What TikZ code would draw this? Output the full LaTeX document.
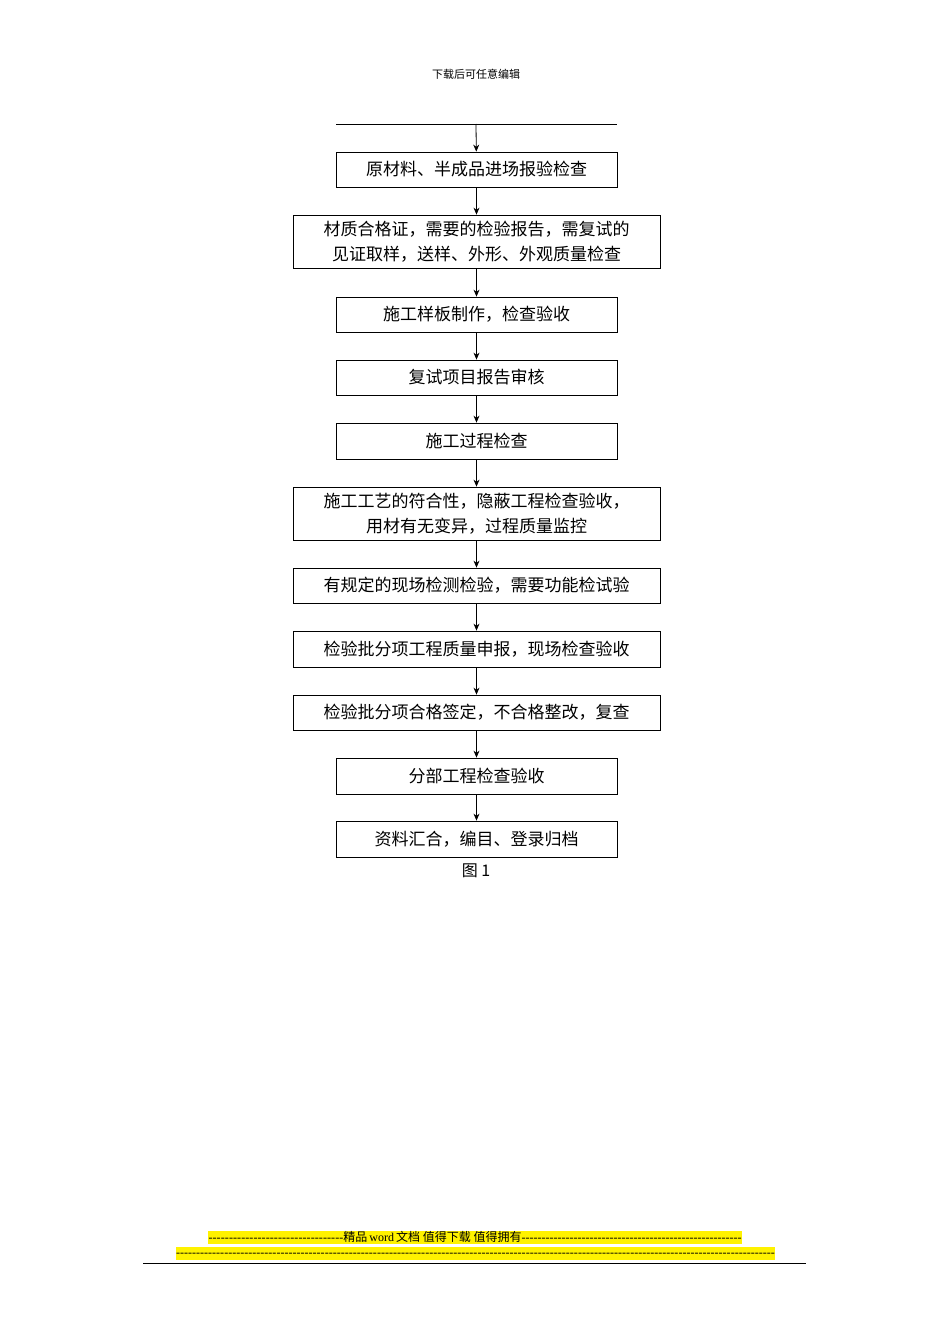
\documentclass[tikz,border=0pt]{standalone}
\usepackage{fontspec}
\setmainfont{Liberation Serif}
\newfontfamily\cjk{Noto Sans CJK SC}
\usetikzlibrary{arrows.meta}
\begin{document}
\begin{tikzpicture}[x=1pt,y=-1pt,
  bx/.style={draw,thick,inner sep=0pt,align=center,font=\cjk\fontsize{17}{25}\selectfont},
  ar/.style={-{Stealth[length=7pt,width=6pt]},thick}]
\useasboundingbox (0,0) rectangle (950,1344);
\node[font=\cjk\fontsize{11}{13}\selectfont] (hd) at (476,74) {下载后可任意编辑};
\draw[thick] (336,124) -- (617,124);
\coordinate (top) at (476,124);
\def\B#1#2#3#4#5#6{\node[bx,minimum width=#3pt-#2pt,minimum height=#5pt-#4pt] (#1) at ({(#2+#3)/2},{(#4+#5)/2}) {#6};}
\B{b1}{336}{617}{152}{187}{原材料、半成品进场报验检查}
\B{b2}{293}{660}{215}{268}{材质合格证，需要的检验报告，需复试的\\见证取样，送样、外形、外观质量检查}
\B{b3}{336}{617}{297}{332}{施工样板制作，检查验收}
\B{b4}{336}{617}{360}{395}{复试项目报告审核}
\B{b5}{336}{617}{423}{459}{施工过程检查}
\B{b6}{293}{660}{487}{540}{施工工艺的符合性，隐蔽工程检查验收，\\用材有无变异，过程质量监控}
\B{b7}{293}{660}{568}{603}{有规定的现场检测检验，需要功能检试验}
\B{b8}{293}{660}{631}{667}{检验批分项工程质量申报，现场检查验收}
\B{b9}{293}{660}{695}{730}{检验批分项合格签定，不合格整改，复查}
\B{b10}{336}{617}{758}{794}{分部工程检查验收}
\B{b11}{336}{617}{821}{857}{资料汇合，编目、登录归档}
\draw[ar] (top) -- (b1);
\foreach \a/\b in {b1/b2,b2/b3,b3/b4,b4/b5,b5/b6,b6/b7,b7/b8,b8/b9,b9/b10,b10/b11}
  \draw[ar] (\a) -- (\b);
\node[font=\cjk\fontsize{16}{18}\selectfont] (fig) at (476,871) {图 1};
\node[fill=yellow,inner sep=0pt,font=\fontsize{12}{13}\selectfont,text height=10pt,text depth=3pt] (f1) at (475,1237.5)
 {\hbox to 135pt{\xleaders\hbox{-}\hfill}{\cjk 精品}\,word\,{\cjk 文档 值得下载 值得拥有}\hbox to 220pt{\xleaders\hbox{-}\hfill}};
\node[fill=yellow,inner sep=0pt,font=\fontsize{12}{13}\selectfont,text height=10pt,text depth=3pt] (f2) at (475.5,1253)
 {\hbox to 599pt{\xleaders\hbox{-}\hfill}};
\draw (143,1263) -- (806,1263);
\end{tikzpicture}
\end{document}
